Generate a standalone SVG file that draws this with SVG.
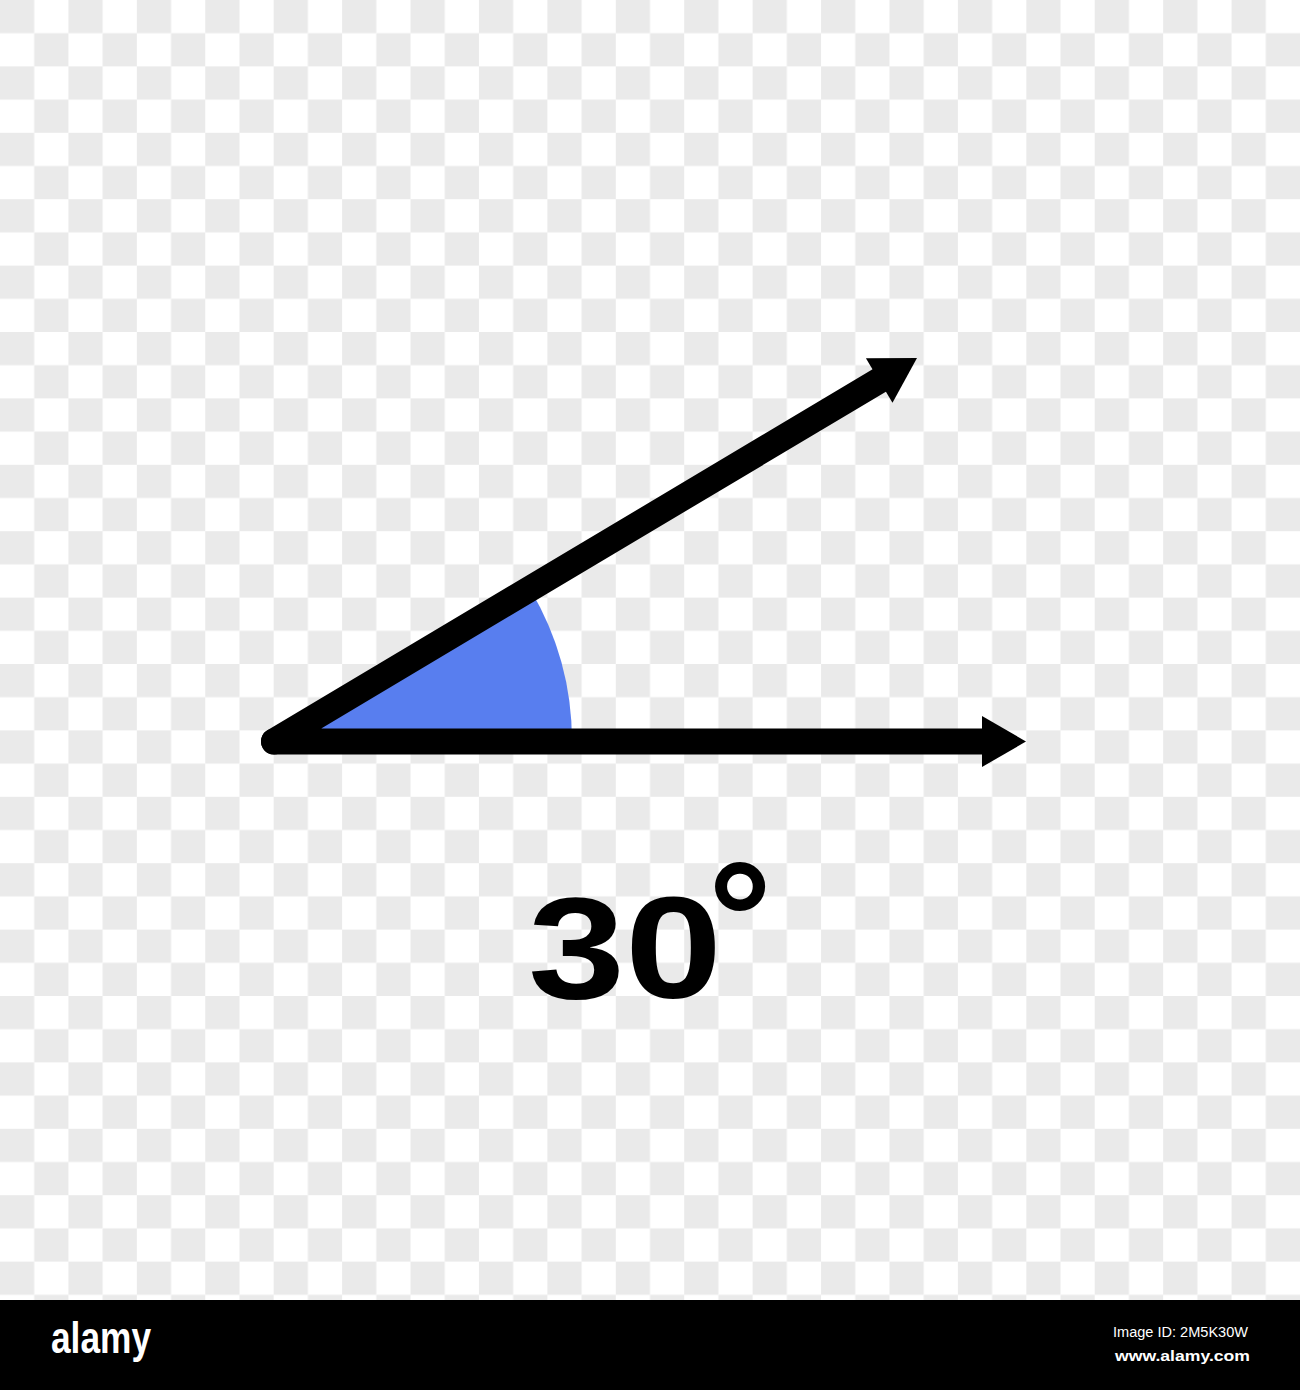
<svg xmlns="http://www.w3.org/2000/svg" width="1300" height="1390" viewBox="0 0 1300 1390">
  <style>
    .ray { fill: none; stroke: #000; stroke-width: 26; stroke-linejoin: round; stroke-linecap: round; }
    .head { fill: #000; }
    .label { font-family: "Liberation Sans", Arial, sans-serif; font-weight: bold; fill: #000; }
    .foot { font-family: "Liberation Sans", Arial, sans-serif; fill: #fff; }
  </style>
  <defs>
    <pattern id="checker" x="0" y="0" width="68.421" height="66.4" patternUnits="userSpaceOnUse">
      <rect x="0" y="0" width="34.21" height="33.2" fill="#eaeaea"/>
      <rect x="34.21" y="33.2" width="34.21" height="33.2" fill="#eaeaea"/>
    </pattern>
  </defs>

  <g id="background">
    <rect x="0" y="0" width="1300" height="1300" fill="#ffffff"/>
    <rect x="0" y="0" width="1300" height="1300" fill="url(#checker)"/>
  </g>

  <g id="angle-wedge">
    <path d="M274,741.5 L530,589 A298,298 0 0 1 572,741.5 Z" fill="#587EEF"/>
  </g>

  <g id="connectors">
    <path class="ray" d="M882.6,378.5 L274,741.5 L985,741.5" stroke-linecap="butt"/>
    <path class="ray" d="M274,741.5 L274.1,741.5"/>
    <polygon class="head" points="917,358 865.9,358.2 892.5,402.8"/>
    <polygon class="head" points="1026,741.5 982,716 982,767"/>
  </g>

  <g id="label">
    <text class="label" font-size="144"><tspan x="528" y="998" textLength="194" lengthAdjust="spacingAndGlyphs">30</tspan><tspan x="708" y="973" font-size="160">°</tspan></text>
  </g>

  <g id="footer">
    <rect x="0" y="1300" width="1300" height="90" fill="#000"/>
    <text class="foot" x="51" y="1353" font-size="44" font-weight="bold" textLength="100" lengthAdjust="spacingAndGlyphs">alamy</text>
    <text class="foot" x="1113" y="1337" font-size="14" textLength="135" lengthAdjust="spacingAndGlyphs">Image ID: 2M5K30W</text>
    <text class="foot" x="1115" y="1361" font-size="15" font-weight="bold" textLength="135" lengthAdjust="spacingAndGlyphs">www.alamy.com</text>
  </g>
</svg>
